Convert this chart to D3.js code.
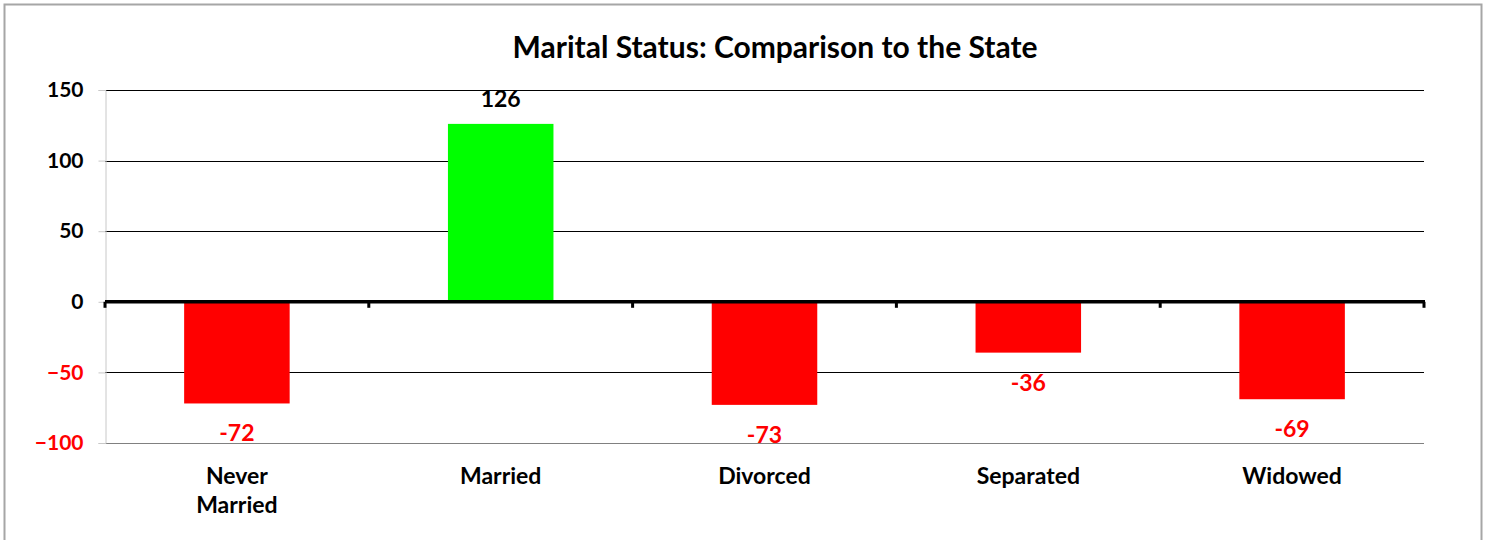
<!DOCTYPE html>
<html lang="en">
<head>
  <meta charset="UTF-8">
  <title>Marital Status: Comparison to the State</title>
  <script src="https://d3js.org/d3.v7.min.js"></script>
  <style>
    body { margin: 0; background: #fff; }
    svg text { font-family: Lato, "Open Sans", sans-serif; font-weight: bold; }
  </style>
</head>
<body>
  <div id="chart"></div>
  <script>
    // chart data
    const categories = ['Never Married', 'Married', 'Divorced', 'Separated', 'Widowed'];
    const values = [-72, 126, -73, -36, -69];
    const yTicks = [-100, -50, 0, 50, 100, 150];

    const width = 1491, height = 540;
    const plot = { left: 105, right: 1424, top: 90, bottom: 443 };

    const svg = d3.select('#chart').append('svg')
      .attr('width', width)
      .attr('height', height);

    // outer frame
    svg.append('rect')
      .attr('x', 4.5).attr('y', 4.5)
      .attr('width', 1477).attr('height', 545)
      .attr('fill', 'none')
      .attr('stroke', '#a6a6a6')
      .attr('stroke-width', 2);

    svg.append('text')
      .attr('x', 775).attr('y', 58)
      .attr('text-anchor', 'middle')
      .attr('font-size', 30)
      .text('Marital Status: Comparison to the State');

    const x = d3.scaleBand()
      .domain(categories)
      .range([plot.left, plot.right])
      .paddingInner(0.6)
      .paddingOuter(0.3);

    const y = d3.scaleLinear()
      .domain([-100, 150])
      .range([plot.bottom, plot.top]);

    // gridlines
    svg.append('g')
      .selectAll('line')
      .data(yTicks.filter(d => d !== 0))
      .enter()
      .append('line')
      .attr('x1', plot.left).attr('x2', plot.right)
      .attr('y1', d => Math.round(y(d)) + 0.5)
      .attr('y2', d => Math.round(y(d)) + 0.5)
      .attr('stroke', d => d === -100 ? '#808080' : '#000')
      .attr('stroke-width', 1);

    // left axis
    const yAxis = svg.append('g')
      .attr('transform', `translate(${plot.left + 0.5},0)`)
      .call(d3.axisLeft(y).tickValues(yTicks).tickSize(7).tickPadding(15));
    yAxis.select('.domain').attr('stroke', '#c8c8c8');
    yAxis.selectAll('.tick line').attr('stroke', '#c8c8c8');
    yAxis.selectAll('.tick text')
      .attr('font-size', 21)
      .attr('fill', d => d < 0 ? '#ff0000' : '#000');

    // bars
    svg.append('g')
      .selectAll('rect')
      .data(values)
      .enter()
      .append('rect')
      .attr('x', (d, i) => x(categories[i]))
      .attr('width', x.bandwidth())
      .attr('y', d => y(Math.max(0, d)))
      .attr('height', d => Math.abs(y(d) - y(0)))
      .attr('fill', d => d < 0 ? '#ff0000' : '#00ff00');

    // zero axis with category ticks
    const step = (plot.right - plot.left) / categories.length;
    svg.append('line')
      .attr('x1', plot.left).attr('x2', plot.right + 1)
      .attr('y1', y(0)).attr('y2', y(0))
      .attr('stroke', '#000')
      .attr('stroke-width', 3.5);
    svg.append('g')
      .selectAll('line')
      .data(d3.range(categories.length + 1))
      .enter()
      .append('line')
      .attr('x1', i => plot.left + i * step)
      .attr('x2', i => plot.left + i * step)
      .attr('y1', y(0)).attr('y2', y(0) + 6)
      .attr('stroke', '#000')
      .attr('stroke-width', 3);

    // value labels
    svg.append('g')
      .selectAll('text')
      .data(values)
      .enter()
      .append('text')
      .attr('x', (d, i) => x(categories[i]) + x.bandwidth() / 2)
      .attr('y', d => d < 0 ? y(d) + 38 : y(d) - 17)
      .attr('text-anchor', 'middle')
      .attr('font-size', 23)
      .attr('fill', d => d < 0 ? '#ff0000' : '#000')
      .text(d => d);

    // category labels
    const catLabels = svg.append('g')
      .selectAll('text')
      .data(categories)
      .enter()
      .append('text')
      .attr('x', d => x(d) + x.bandwidth() / 2)
      .attr('y', 484)
      .attr('text-anchor', 'middle')
      .attr('font-size', 23);
    catLabels.each(function (d) {
      const words = d === 'Never Married' ? d.split(' ') : [d];
      const t = d3.select(this);
      words.forEach((w, k) => {
        t.append('tspan')
          .attr('x', t.attr('x'))
          .attr('dy', k === 0 ? 0 : 29)
          .text(w);
      });
    });
  </script>
</body>
</html>
